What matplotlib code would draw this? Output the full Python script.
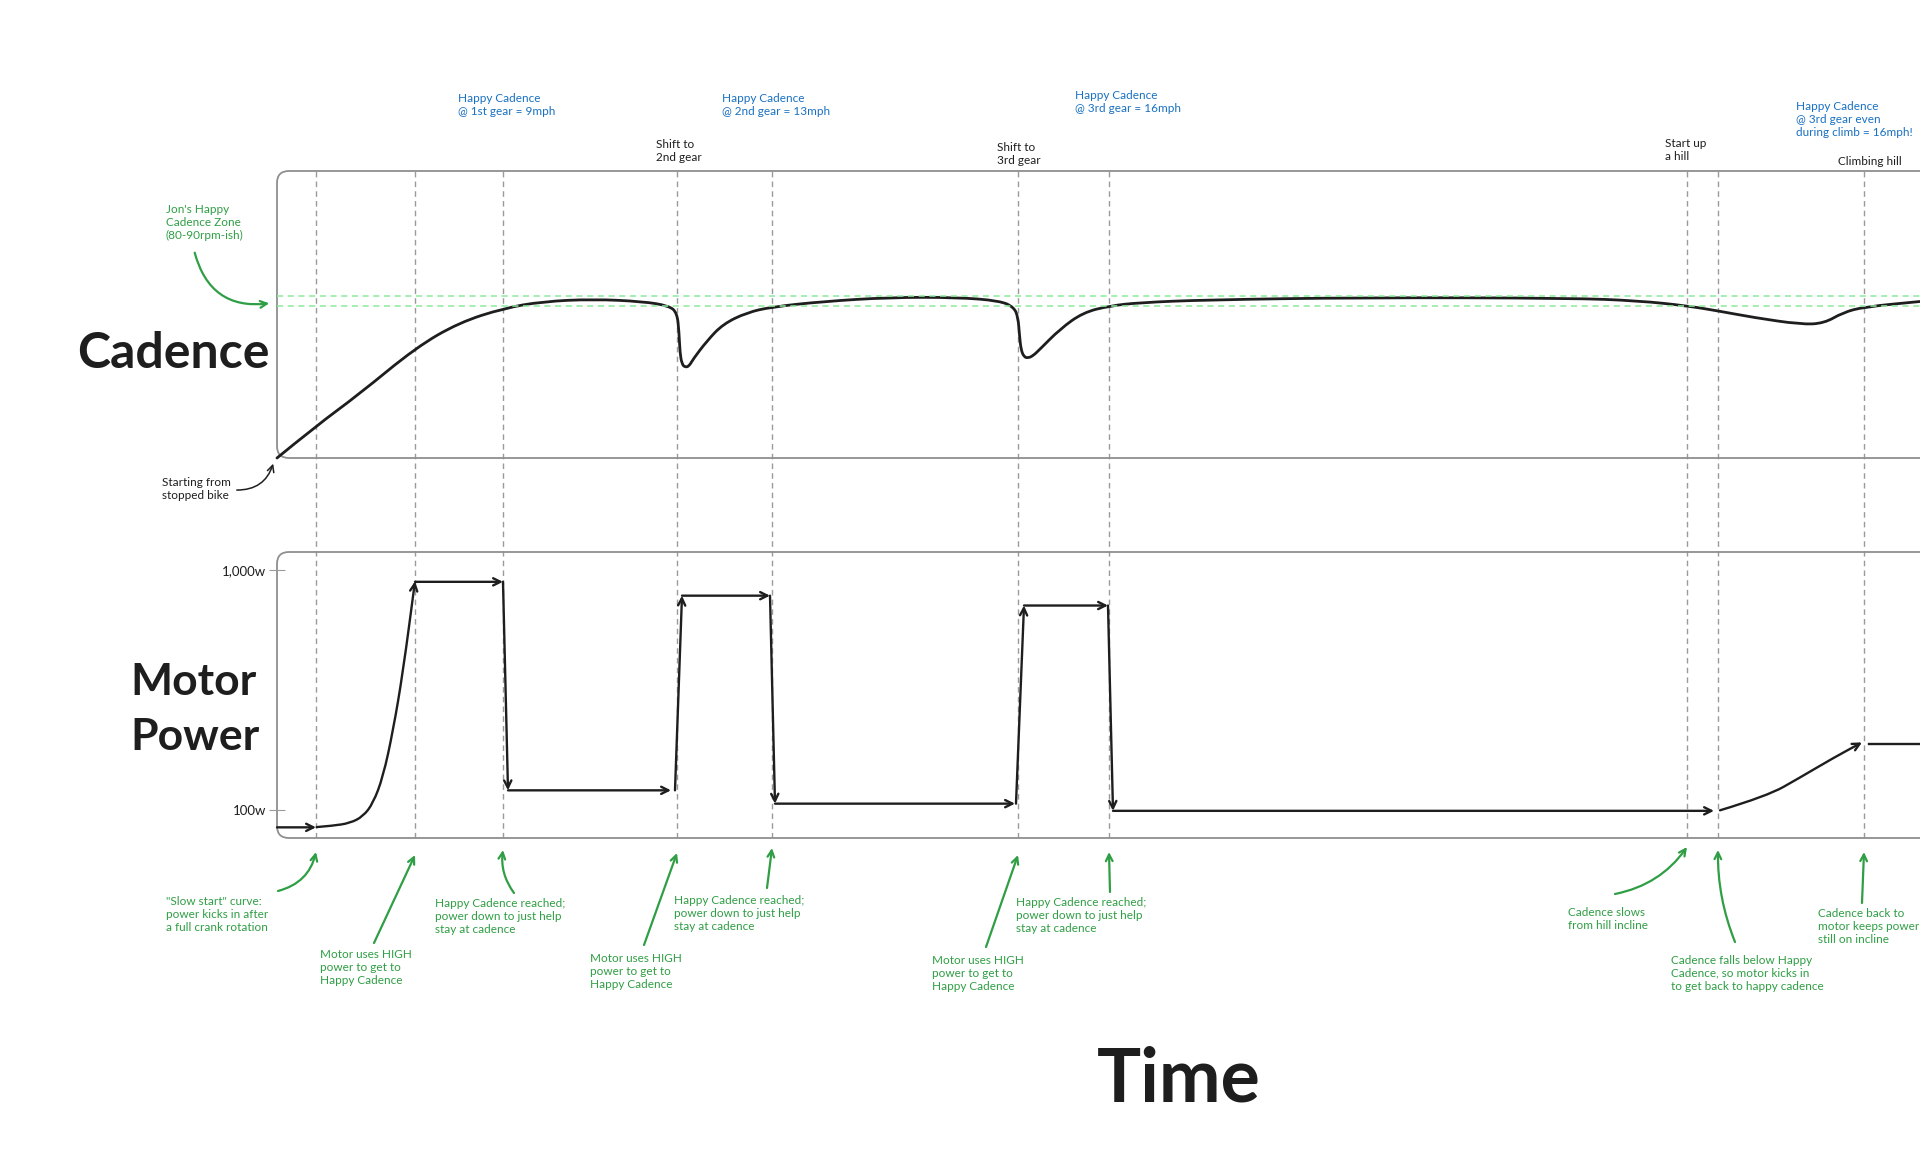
import matplotlib.pyplot as plt
from matplotlib.patches import FancyBboxPatch, FancyArrowPatch, PathPatch
from matplotlib.path import Path

plt.rcParams['font.family'] = ['Lato', 'DejaVu Sans']

# figure size in pixels (dpi 100)
W, H = 1920, 1159

# time (s) of the dashed event lines
event_times = [3.9, 13.8, 22.6, 40.0, 49.5, 74.1, 83.2, 141.0, 144.1, 158.7]

# cadence curve (time s, rpm)
cad_t = [0, 3.9, 8.2, 13.9, 18.2, 22.7, 26.6, 31.6, 36.6, 39.2, 40.0, 40.2, 40.3, 40.5,
         40.8, 41.2, 41.6, 43.0, 44.6, 47.0, 49.5, 54.6, 61.3, 68.0, 72.3, 73.7, 74.1,
         74.25, 74.4, 74.7, 75.1, 75.6, 76.3, 78.3, 80.6, 83.3, 86.3, 92.8, 108.5, 129.4,
         136.2, 141.0, 144.1, 147.7, 152.4, 154.7, 156.6, 158.7, 164.3]
cad_rpm = [0, 17.7, 35.3, 61.2, 75.0, 83.0, 86.7, 88.0, 86.7, 84.3, 80.5, 70.0, 58.0, 52.0,
           50.3, 50.8, 54.7, 64.9, 74.2, 80.6, 83.7, 86.7, 89.0, 89.0, 87.1, 83.5, 78.0,
           68.0, 60.0, 56.0, 55.4, 56.6, 60.3, 71.4, 80.6, 84.3, 86.1, 87.6, 88.9, 88.6,
           87.1, 84.3, 81.5, 77.8, 74.0, 74.6, 80.6, 83.7, 86.7]
zone_rpm = [84, 90]

# motor power (time s, watts)
start_t, start_w = [0, 3.9], [33, 33]
slow_t = [3.97, 5.6, 7.3, 8.6, 9.6, 10.6, 11.6, 12.6, 13.8]
slow_w = [34, 39, 49, 74, 123, 222, 395, 617, 957]
step_segments = [  # (t0, w0, t1, w1)
    (13.8, 955, 22.6, 955),
    (22.6, 955, 23.1, 172),
    (23.1, 172, 39.4, 172),
    (39.8, 172, 40.5, 903),
    (40.5, 903, 49.3, 903),
    (49.3, 903, 49.8, 122),
    (49.8, 122, 73.8, 122),
    (73.9, 122, 74.7, 866),
    (74.7, 866, 83.1, 866),
    (83.1, 866, 83.6, 95),
    (83.6, 95, 143.7, 95),
]
hill_t = [144.3, 149.0, 152.3, 155.6, 158.5]
hill_w = [97, 150, 220, 293, 352]
hold_t, hold_w = [159.2, 166], [347, 347]
power_ticks = [100, 1000]
power_tick_labels = ['100w', '1,000w']

BLACK = '#1e1e1e'
BLUE = '#1971c2'
GREEN = '#2f9e44'
GRID = '#9a9a9a'
BOX = '#8f8f8f'


def fx(px):
    return px / W


def fy(py):
    return 1 - py / H


def smooth_path(xs, ys):
    """Quadratic bezier through the midpoints, read points used as controls."""
    verts = [(xs[0], ys[0])]
    codes = [Path.MOVETO]
    for i in range(1, len(xs) - 1):
        verts += [(xs[i], ys[i]), ((xs[i] + xs[i + 1]) / 2, (ys[i] + ys[i + 1]) / 2)]
        codes += [Path.CURVE3, Path.CURVE3]
    verts.append((xs[-1], ys[-1]))
    codes.append(Path.LINETO)
    return Path(verts, codes)


fig = plt.figure(figsize=(W / 100, H / 100), dpi=100)

x0, x1 = 0, 170
left = fx(277)
width = (x1 - x0) * 10 / W

ax_bg = fig.add_axes([left, fy(838), width, (838 - 171) / H], zorder=0)
ax_cad = fig.add_axes([left, fy(458), width, (458 - 171) / H], zorder=1)
ax_pow = fig.add_axes([left, fy(838), width, (838 - 552) / H], zorder=1)

for ax in (ax_bg, ax_cad, ax_pow):
    ax.set_xlim(x0, x1)
    ax.patch.set_alpha(0)
    for s in ax.spines.values():
        s.set_visible(False)
    ax.set_xticks([])

ax_bg.set_ylim(0, 1)
ax_bg.set_yticks([])
for t in event_times:
    ax_bg.axvline(t, color=GRID, lw=1, ls=(0, (4, 3)))

# rounded boxes
for ax, hpx in ((ax_cad, 287), (ax_pow, 286)):
    r = 12 / 1700
    box = FancyBboxPatch((0, 0), 1, 1, boxstyle=f"round,pad=0,rounding_size={r}",
                         mutation_aspect=1700 / hpx, transform=ax.transAxes,
                         fill=False, ec=BOX, lw=1.3, clip_on=False)
    ax.add_patch(box)

# cadence
ax_cad.set_ylim(0, 159)
ax_cad.set_yticks([])
for z in zone_rpm:
    ax_cad.axhline(z, color='#8ce99a', lw=1.1, ls=(0, (4, 3)))
ax_cad.add_patch(PathPatch(smooth_path(cad_t, cad_rpm), fill=False, ec=BLACK, lw=2,
                           capstyle='round', joinstyle='round', clip_on=False))

# motor power
ax_pow.set_ylim(-7, 1067)
ax_pow.set_yticks(power_ticks)
ax_pow.set_yticklabels(power_tick_labels)
ax_pow.tick_params(axis='y', direction='inout', length=12, width=0.8, color=GRID,
                   labelsize=9.5, labelcolor=BLACK, pad=2)

arrow_kw = dict(arrowstyle='->', color=BLACK, lw=1.7, mutation_scale=13,
                shrinkA=0, shrinkB=0)


def seg_arrow(ax, t0, w0, t1, w1):
    ax.annotate('', xy=(t1, w1), xytext=(t0, w0), arrowprops=arrow_kw,
                annotation_clip=False)


def curve_arrow(ax, ts, ws):
    ax.add_patch(FancyArrowPatch(path=smooth_path(ts, ws), arrowstyle='->',
                                 color=BLACK, lw=1.7, mutation_scale=13,
                                 transform=ax.transData))


seg_arrow(ax_pow, start_t[0], start_w[0], start_t[1], start_w[1])
curve_arrow(ax_pow, slow_t, slow_w)
for s in step_segments:
    seg_arrow(ax_pow, *s)
curve_arrow(ax_pow, hill_t, hill_w)
ax_pow.plot(hold_t, hold_w, color=BLACK, lw=1.7, clip_on=False)

# big labels
fig.text(fx(173), fy(354), 'Cadence', fontsize=36, fontweight='bold', color=BLACK,
         ha='center', va='center')
fig.text(fx(130), fy(695), 'Motor', fontsize=32, fontweight='bold', color=BLACK,
         ha='left', va='baseline')
fig.text(fx(130), fy(750), 'Power', fontsize=32, fontweight='bold', color=BLACK,
         ha='left', va='baseline')
fig.text(fx(1179), fy(1080), 'Time', fontsize=53, fontweight='bold', color=BLACK,
         ha='center', va='center')

# notes: (left px, top px, text, colour)
notes = [
    (458, 93, 'Happy Cadence\n@ 1st gear = 9mph', BLUE),
    (722, 93, 'Happy Cadence\n@ 2nd gear = 13mph', BLUE),
    (1075, 90, 'Happy Cadence\n@ 3rd gear = 16mph', BLUE),
    (1796, 101, 'Happy Cadence\n@ 3rd gear even\nduring climb = 16mph!', BLUE),
    (656, 139, 'Shift to\n2nd gear', BLACK),
    (997, 142, 'Shift to\n3rd gear', BLACK),
    (1665, 138, 'Start up\na hill', BLACK),
    (1838, 156, 'Climbing hill', BLACK),
    (162, 477, 'Starting from\nstopped bike', BLACK),
    (166, 204, "Jon's Happy\nCadence Zone\n(80-90rpm-ish)", GREEN),
    (166, 896, '"Slow start" curve:\npower kicks in after\na full crank rotation', GREEN),
    (320, 949, 'Motor uses HIGH\npower to get to\nHappy Cadence', GREEN),
    (435, 898, 'Happy Cadence reached;\npower down to just help\nstay at cadence', GREEN),
    (590, 953, 'Motor uses HIGH\npower to get to\nHappy Cadence', GREEN),
    (674, 895, 'Happy Cadence reached;\npower down to just help\nstay at cadence', GREEN),
    (932, 955, 'Motor uses HIGH\npower to get to\nHappy Cadence', GREEN),
    (1016, 897, 'Happy Cadence reached;\npower down to just help\nstay at cadence', GREEN),
    (1568, 907, 'Cadence slows\nfrom hill incline', GREEN),
    (1671, 955, 'Cadence falls below Happy\nCadence, so motor kicks in\nto get back to happy cadence', GREEN),
    (1818, 908, 'Cadence back to\nmotor keeps power\nstill on incline', GREEN),
]
for px, py, txt, col in notes:
    fig.text(fx(px), fy(py), txt, fontsize=8.5, color=col, ha='left', va='top',
             linespacing=1.2)

# pointer arrows drawn in figure pixels
fig_arrows = [  # tail px, tip px, colour, curvature
    ((194, 250), (272, 303), GREEN, 0.45),
    ((234, 490), (274, 461), BLACK, 0.4),
]
for (tx, ty), (hx, hy), col, rad in fig_arrows:
    fig.add_artist(FancyArrowPatch(
        (fx(tx), fy(ty)), (fx(hx), fy(hy)), transform=fig.transFigure,
        arrowstyle='->', mutation_scale=12, color=col,
        lw=1.6 if col == GREEN else 1.1, connectionstyle=f'arc3,rad={rad}'))

# pointer arrows that end on an event time below the power box
time_arrows = [  # tail px, tip time, tip y px, curvature
    ((278, 891), event_times[0], 852, 0.3),
    ((374, 943), event_times[1], 855, 0),
    ((514, 893), event_times[2], 850, -0.2),
    ((644, 945), event_times[3], 853, 0),
    ((767, 888), event_times[4], 848, 0),
    ((986, 947), event_times[5], 855, 0),
    ((1110, 892), event_times[6], 852, 0),
    ((1615, 894), event_times[7], 847, 0.2),
    ((1735, 942), event_times[8], 850, -0.1),
    ((1862, 903), event_times[9], 852, 0),
]
for (tx, ty), tt, hy, rad in time_arrows:
    ax_pow.annotate('', xy=(tt, fy(hy)), xycoords=('data', 'figure fraction'),
                    xytext=(fx(tx), fy(ty)), textcoords='figure fraction',
                    annotation_clip=False,
                    arrowprops=dict(arrowstyle='->', color=GREEN, lw=1.6,
                                    mutation_scale=12, shrinkA=0, shrinkB=0,
                                    connectionstyle=f'arc3,rad={rad}'))

fig.savefig('out.png', dpi=100, facecolor='white')
